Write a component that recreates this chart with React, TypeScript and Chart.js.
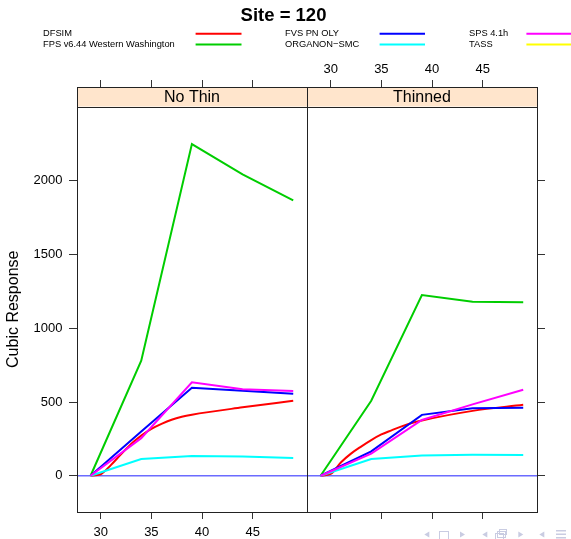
import React, { useEffect, useRef } from 'react';
import { Chart, registerables } from 'chart.js';

Chart.register(...registerables);

// ---------------- data ----------------
const seriesNames = [
  'DFSIM',
  'FPS v6.44 Western Washington',
  'FVS PN OLY',
  'ORGANON\u2212SMC',
  'SPS 4.1h',
  'TASS',
];
const seriesColors = ['#FF0000', '#00CD00', '#0000FF', '#00FFFF', '#FF00FF', '#FFFF00'];
const panelNames = ['No Thin', 'Thinned'];

const ages = [29, 34, 39, 44, 49];
const agesDfsim = [29, 30, 31, 32, 33, 34, 35, 36, 37, 38, 39, 44, 49];

const dfsimNoThin = [0, 10, 72, 145, 215, 272, 318, 352, 380, 400, 414, 464, 509];
const fpsNoThin = [0, 780, 2250, 2045, 1868];
const fvsNoThin = [0, 300, 597, 577, 556];
const organonNoThin = [0, 113, 134, 131, 120];
const spsNoThin = [0, 255, 634, 586, 575];
const tassNoThin: number[] = [];

const dfsimThinned = [0, 12, 90, 150, 198, 242, 280, 308, 335, 358, 375, 440, 482];
const fpsThinned = [0, 509, 1226, 1181, 1176];
const fvsThinned = [0, 165, 413, 457, 461];
const organonThinned = [0, 113, 138, 142, 140];
const spsThinned = [0, 150, 378, 484, 583];
const tassThinned: number[] = [];

const xTicks = [30, 35, 40, 45];
const yTicks = [0, 500, 1000, 1500, 2000];
const xMin = 27.66;
const xMax = 50.36;
const yMin = -246;
const yMax = 2637;
const refValue = 0;
const chartTitle = 'Site = 120';
const yTitle = 'Cubic Response';

// ---------------- layout / style ----------------
const W = 571;
const H = 539;
const FONT = "'Liberation Sans', Arial, Helvetica, sans-serif";
const PANEL_LEFT = [77, 307];
const PANEL_RIGHT = [307, 537];
const PANEL_TOP = 87;
const PANEL_BOTTOM = 512;
const STRIP_H = 19.5;
const legendTextX = [43, 285, 469];
const legendLineX = [
  [195.6, 241.5],
  [379.6, 425],
  [526.4, 572],
];
const legendRowY = [33.7, 44.5];

const px = (v: number) => Math.round(v) + 0.5;

const panelDecor = {
  id: 'panelDecor',
  beforeDatasetsDraw(chart: any) {
    const { ctx, chartArea: a, scales } = chart;
    const y0 = scales.y.getPixelForValue(refValue);
    ctx.save();
    ctx.strokeStyle = '#6b6bff';
    ctx.lineWidth = 1.3;
    ctx.beginPath();
    ctx.moveTo(a.left, y0);
    ctx.lineTo(a.right, y0);
    ctx.stroke();
    ctx.restore();
  },
  afterDraw(chart: any, _args: any, opts: any) {
    const { ctx, chartArea: a } = chart;
    ctx.save();
    ctx.fillStyle = '#FFE5CC';
    ctx.fillRect(a.left, a.top, a.right - a.left, STRIP_H);
    ctx.strokeStyle = '#222';
    ctx.lineWidth = 1;
    ctx.beginPath();
    ctx.moveTo(px(a.left), px(a.top + STRIP_H));
    ctx.lineTo(px(a.right), px(a.top + STRIP_H));
    ctx.stroke();
    ctx.strokeRect(px(a.left), px(a.top), Math.round(a.right) - Math.round(a.left), Math.round(a.bottom) - Math.round(a.top));
    ctx.fillStyle = '#000';
    ctx.font = `16px ${FONT}`;
    ctx.textAlign = 'center';
    ctx.textBaseline = 'middle';
    ctx.fillText(opts.name, (a.left + a.right) / 2, a.top + STRIP_H / 2 + 0.5);
    ctx.restore();
  },
};

const figureDecor = {
  id: 'figureDecor',
  afterDraw(chart: any, _args: any, opts: any) {
    if (!opts.show) return;
    const { ctx } = chart;
    ctx.save();
    ctx.fillStyle = '#000';
    ctx.textBaseline = 'middle';
    ctx.textAlign = 'center';
    ctx.font = `bold 18.5px ${FONT}`;
    ctx.fillText(chartTitle, 283.5, 15.5);

    ctx.font = `9.3px ${FONT}`;
    ctx.textAlign = 'left';
    seriesNames.forEach((name, i) => {
      const col = Math.floor(i / 2);
      const row = i % 2;
      const y = legendRowY[row];
      ctx.fillStyle = '#000';
      ctx.fillText(name, legendTextX[col], y);
      ctx.strokeStyle = seriesColors[i];
      ctx.lineWidth = 2;
      ctx.beginPath();
      ctx.moveTo(legendLineX[col][0], y);
      ctx.lineTo(legendLineX[col][1], y);
      ctx.stroke();
    });

    // y axis title, centred on the panel region below the strips
    ctx.save();
    ctx.translate(13.5, (PANEL_TOP + STRIP_H + PANEL_BOTTOM) / 2);
    ctx.rotate(-Math.PI / 2);
    ctx.textAlign = 'center';
    ctx.font = `16px ${FONT}`;
    ctx.fillStyle = '#000';
    ctx.fillText(yTitle, 0, 0);
    ctx.restore();

    // beamer navigation icons
    const c = '#c9cce2';
    ctx.fillStyle = c;
    ctx.strokeStyle = c;
    ctx.lineWidth = 1;
    const triL = (x: number) => {
      ctx.beginPath();
      ctx.moveTo(x, 534.5);
      ctx.lineTo(x + 5, 531.5);
      ctx.lineTo(x + 5, 537.5);
      ctx.closePath();
      ctx.fill();
    };
    const triR = (x: number) => {
      ctx.beginPath();
      ctx.moveTo(x + 5, 534.5);
      ctx.lineTo(x, 531.5);
      ctx.lineTo(x, 537.5);
      ctx.closePath();
      ctx.fill();
    };
    triL(424.3);
    ctx.strokeRect(439.5, 531.5, 9, 8);
    triR(460);
    triL(482.3);
    ctx.strokeRect(495.5, 533.5, 8, 6);
    ctx.strokeRect(497.5, 531.5, 8, 6);
    ctx.strokeRect(499.5, 529.5, 7, 5);
    triR(518.3);
    triL(539.3);
    ctx.fillRect(556, 530, 10, 1.5);
    ctx.fillRect(556, 533.5, 10, 1.5);
    ctx.fillRect(556, 537, 10, 1.5);
    ctx.restore();
  },
};

function makeConfig(p: number): any {
  const isLeft = p === 0;
  const panelSeries =
    p === 0
      ? [dfsimNoThin, fpsNoThin, fvsNoThin, organonNoThin, spsNoThin, tassNoThin]
      : [dfsimThinned, fpsThinned, fvsThinned, organonThinned, spsThinned, tassThinned];

  const datasets = seriesNames.map((name, i) => {
    const xs = i === 0 ? agesDfsim : ages;
    const vals = panelSeries[i];
    return {
      label: name,
      data: vals.map((v, k) => ({ x: xs[k], y: v })),
      borderColor: seriesColors[i],
      backgroundColor: seriesColors[i],
      borderWidth: 2,
      pointRadius: 0,
      fill: false,
      tension: 0,
      cubicInterpolationMode: i === 0 ? 'monotone' : 'default',
      order: -i,
    };
  });

  const tickFont = { family: FONT, size: 13 };
  const setX = (s: any) => {
    s.ticks = xTicks.map((v) => ({ value: v }));
  };
  const setY = (s: any) => {
    s.ticks = yTicks.map((v) => ({ value: v }));
  };
  const grid = (len: number) => ({
    drawOnChartArea: false,
    drawTicks: true,
    tickLength: len,
    color: '#333',
    lineWidth: 1,
  });
  const label = (v: any) => String(v);
  const none = () => '';

  return {
    type: 'line',
    data: { datasets },
    options: {
      responsive: false,
      animation: false,
      devicePixelRatio: 1,
      layout: {
        padding: isLeft
          ? { left: 0, right: W - PANEL_RIGHT[0], top: 0, bottom: 0 }
          : { left: PANEL_LEFT[1], right: 0, top: 0, bottom: 0 },
      },
      plugins: {
        legend: { display: false },
        tooltip: { enabled: false },
        title: { display: false },
        panelDecor: { name: panelNames[p] },
        figureDecor: { show: isLeft },
      },
      scales: {
        x: {
          type: 'linear',
          axis: 'x',
          position: 'bottom',
          min: xMin,
          max: xMax,
          afterBuildTicks: setX,
          afterFit: (s: any) => {
            s.height = H - PANEL_BOTTOM;
          },
          ticks: {
            font: tickFont,
            color: '#000',
            padding: 5.6,
            maxRotation: 0,
            autoSkip: false,
            callback: isLeft ? label : none,
          },
          grid: grid(7),
          border: { display: false },
        },
        xTop: {
          type: 'linear',
          axis: 'x',
          position: 'top',
          min: xMin,
          max: xMax,
          afterBuildTicks: setX,
          afterFit: (s: any) => {
            s.height = PANEL_TOP;
          },
          ticks: {
            font: tickFont,
            color: '#000',
            padding: 2.4,
            maxRotation: 0,
            autoSkip: false,
            callback: isLeft ? none : label,
          },
          grid: grid(7),
          border: { display: false },
        },
        y: {
          type: 'linear',
          axis: 'y',
          position: isLeft ? 'left' : 'right',
          min: yMin,
          max: yMax,
          afterBuildTicks: setY,
          afterFit: (s: any) => {
            s.width = isLeft ? PANEL_LEFT[0] : W - PANEL_RIGHT[1];
          },
          ticks: {
            font: tickFont,
            color: '#000',
            padding: 6.5,
            autoSkip: false,
            callback: isLeft ? label : none,
          },
          grid: grid(8),
          border: { display: false },
        },
      },
    },
    plugins: [panelDecor, figureDecor],
  };
}

export default function App() {
  const leftRef = useRef<HTMLCanvasElement>(null);
  const rightRef = useRef<HTMLCanvasElement>(null);

  useEffect(() => {
    const c1 = new Chart(leftRef.current as HTMLCanvasElement, makeConfig(0));
    const c2 = new Chart(rightRef.current as HTMLCanvasElement, makeConfig(1));
    return () => {
      c1.destroy();
      c2.destroy();
    };
  }, []);

  return (
    <div style={{ position: 'absolute', left: 0, top: 0, width: W, height: H, background: '#fff', overflow: 'hidden' }}>
      <canvas ref={leftRef} width={W} height={H} style={{ position: 'absolute', left: 0, top: 0 }} />
      <canvas ref={rightRef} width={W} height={H} style={{ position: 'absolute', left: 0, top: 0 }} />
    </div>
  );
}
